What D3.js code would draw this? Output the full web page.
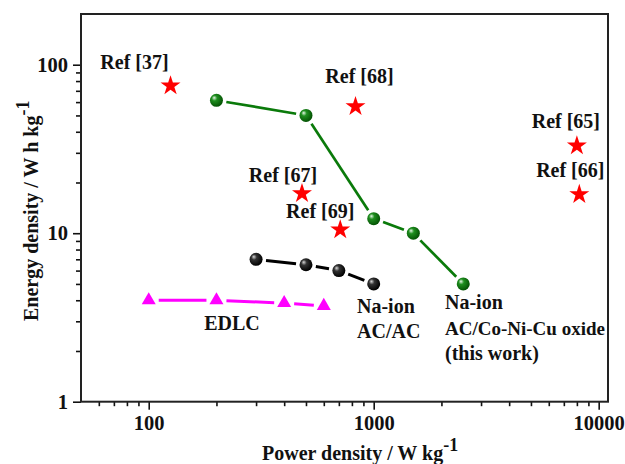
<!DOCTYPE html>
<html>
<head>
<meta charset="utf-8">
<script src="https://cdn.jsdelivr.net/npm/d3@7/dist/d3.min.js"></script>
<style>
  html, body { margin: 0; padding: 0; background: #fff; }
  svg { display: block; }
  text { font-family: "Liberation Serif", "Times New Roman", serif; font-weight: bold; fill: #111; }
</style>
</head>
<body>
<svg id="chart" width="625" height="464"></svg>
<script>
// Ragone plot: energy density vs power density (log-log)

// Na-ion AC/Co-Ni-Cu oxide (this work)
const thisWorkPower  = [200, 500, 1000, 1500, 2500];
const thisWorkEnergy = [61.5, 50, 12.2, 10, 5];

// Na-ion AC/AC
const acacPower  = [300, 500, 700, 1000];
const acacEnergy = [7, 6.5, 6, 5];

// EDLC
const edlcPower  = [100, 200, 400, 600];
const edlcEnergy = [4, 4, 3.85, 3.7];

// Literature references
const refNames  = ["Ref [37]", "Ref [67]", "Ref [68]", "Ref [65]", "Ref [66]", "Ref [69]"];
const refPower  = [125, 480, 830, 8000, 8200, 710];
const refEnergy = [75, 17.2, 56.5, 33, 17, 10.5];

// Axis ticks
const xMajorTicks = [100, 1000, 10000];
const yMajorTicks = [1, 10, 100];

const svg = d3.select("#chart");
const L = 81, T = 14, R = 608, B = 401.7;

const x = d3.scaleLog().domain([50, 11000]).range([L, R]);
const y = d3.scaleLog().domain([1, 200]).range([B, T]);

// minor ticks 2..9 per decade inside the domain
function minorTicks(scale) {
  const [a, b] = scale.domain();
  const out = [];
  for (let d = Math.pow(10, Math.floor(Math.log10(a))); d <= b; d *= 10) {
    for (let k = 2; k <= 9; k++) {
      const v = d * k;
      if (v > a * 1.0001 && v < b * 0.9999) out.push(v);
    }
  }
  return out;
}

// bottom axis
const gx = svg.append("g").attr("transform", `translate(0,${B})`);
gx.call(d3.axisBottom(x).tickValues(minorTicks(x)).tickSize(4.5).tickFormat(""));
gx.append("g").call(d3.axisBottom(x).tickValues(xMajorTicks).tickSize(8).tickPadding(6).tickFormat(d3.format("d")));

// left axis
const gy = svg.append("g").attr("transform", `translate(${L},0)`);
gy.call(d3.axisLeft(y).tickValues(minorTicks(y)).tickSize(5).tickFormat(""));
gy.append("g").call(d3.axisLeft(y).tickValues(yMajorTicks).tickSize(8).tickPadding(5).tickFormat(d3.format("d")));

svg.selectAll(".domain").remove();
svg.selectAll(".tick line").attr("stroke", "#111").attr("stroke-width", 1.6);
svg.selectAll(".tick text")
  .style("font-family", '"Liberation Serif", serif')
  .style("font-weight", "bold")
  .style("font-size", "20.5px")
  .attr("fill", "#111");

// frame
svg.append("rect")
  .attr("x", L).attr("y", T).attr("width", R - L).attr("height", B - T)
  .attr("fill", "none").attr("stroke", "#222").attr("stroke-width", 2);

// gradients for shaded spheres
const defs = svg.append("defs");
function sphereGradient(id, light, mid, dark) {
  const g = defs.append("radialGradient").attr("id", id)
    .attr("cx", "40%").attr("cy", "40%").attr("r", "60%")
    .attr("fx", "32%").attr("fy", "30%");
  g.append("stop").attr("offset", "0%").attr("stop-color", light);
  g.append("stop").attr("offset", "35%").attr("stop-color", mid);
  g.append("stop").attr("offset", "100%").attr("stop-color", dark);
}
sphereGradient("gGreen", "#e8f6e8", "#1f8f1f", "#045304");
sphereGradient("gBlack", "#d8d8d8", "#333", "#000");

// connecting line segments that stop short of each marker
function gappedLine(px, py, color, width, gap) {
  const pts = px.map((p, i) => [x(p), y(py[i])]);
  const segs = d3.pairs(pts).map(([a, b]) => {
    const dx = b[0] - a[0], dy = b[1] - a[1];
    const len = Math.hypot(dx, dy);
    const ux = dx / len, uy = dy / len;
    return [[a[0] + ux * gap, a[1] + uy * gap], [b[0] - ux * gap, b[1] - uy * gap]];
  });
  svg.append("g").selectAll("line").data(segs).join("line")
    .attr("x1", d => d[0][0]).attr("y1", d => d[0][1])
    .attr("x2", d => d[1][0]).attr("y2", d => d[1][1])
    .attr("stroke", color).attr("stroke-width", width);
}

// EDLC
gappedLine(edlcPower, edlcEnergy, "#ff00ff", 3, 10);
svg.append("g").selectAll("path").data(edlcPower).join("path")
  .attr("transform", (d, i) => `translate(${x(d)},${y(edlcEnergy[i])})`)
  .attr("d", d3.symbol(d3.symbolTriangle, 85))
  .attr("fill", "#ff00ff");

// Na-ion AC/AC
gappedLine(acacPower, acacEnergy, "#000", 3, 10);
svg.append("g").selectAll("circle").data(acacPower).join("circle")
  .attr("cx", d => x(d)).attr("cy", (d, i) => y(acacEnergy[i]))
  .attr("r", 6.5).attr("fill", "url(#gBlack)");

// Na-ion AC/Co-Ni-Cu oxide
gappedLine(thisWorkPower, thisWorkEnergy, "#0a7a0a", 2.7, 10);
svg.append("g").selectAll("circle").data(thisWorkPower).join("circle")
  .attr("cx", d => x(d)).attr("cy", (d, i) => y(thisWorkEnergy[i]))
  .attr("r", 6.5).attr("fill", "url(#gGreen)");

// reference stars
svg.append("g").selectAll("path").data(refPower).join("path")
  .attr("transform", (d, i) => `translate(${x(d)},${y(refEnergy[i])})`)
  .attr("d", d3.symbol(d3.symbolStar, 124))
  .attr("fill", "#ff0000");

// reference labels, offset from their stars
const refOffsets = {
  "Ref [37]": [-36, -17],
  "Ref [67]": [-19, -12],
  "Ref [68]": [4, -23],
  "Ref [65]": [-11, -18],
  "Ref [66]": [-9, -17],
  "Ref [69]": [-20, -12]
};
svg.append("g").selectAll("text").data(refNames).join("text")
  .attr("x", (d, i) => x(refPower[i]) + refOffsets[d][0])
  .attr("y", (d, i) => y(refEnergy[i]) + refOffsets[d][1])
  .attr("text-anchor", "middle")
  .style("font-size", "20px")
  .text(d => d);

// series labels
function label(txt, px, py, anchor, size) {
  svg.append("text").attr("x", px).attr("y", py)
    .attr("text-anchor", anchor).style("font-size", size + "px").text(txt);
}
label("EDLC", 232, 330, "middle", 20);
label("Na-ion", 357, 313, "start", 20);
label("AC/AC", 357, 338, "start", 20);
label("Na-ion", 445, 309, "start", 20);
label("AC/Co-Ni-Cu oxide", 445, 335, "start", 19);
label("(this work)", 445, 360, "start", 20);

// axis titles
const xt = svg.append("text").attr("x", 262).attr("y", 460).style("font-size", "20px");
xt.append("tspan").text("Power density / W kg");
xt.append("tspan").attr("dy", -9).style("font-size", "18px").text("-1");

const yt = svg.append("text").attr("transform", "translate(38,321) rotate(-90)").style("font-size", "20px");
yt.append("tspan").text("Energy density / W h kg");
yt.append("tspan").attr("dy", -9).style("font-size", "18px").text("-1");
</script>
</body>
</html>
